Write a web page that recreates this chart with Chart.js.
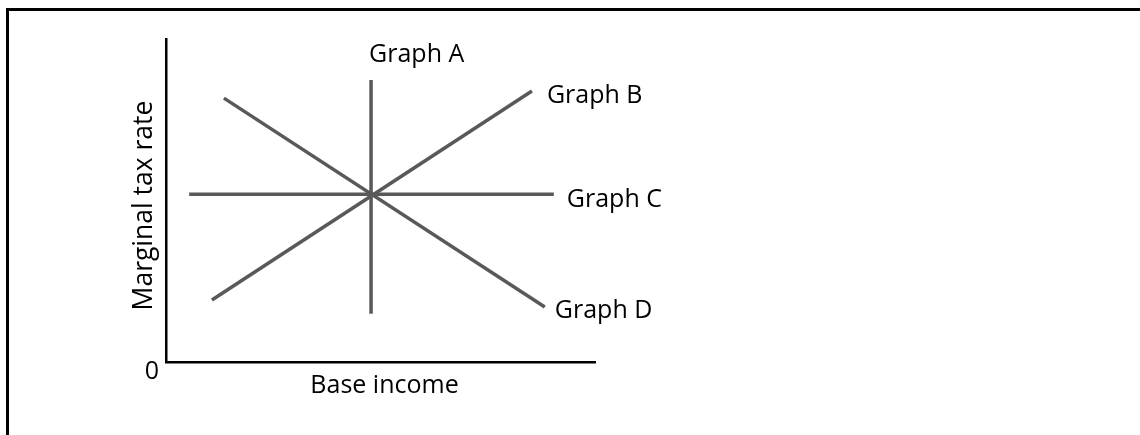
<!DOCTYPE html>
<html>
<head>
<meta charset="utf-8">
<script src="https://cdn.jsdelivr.net/npm/chart.js@4"></script>
<style>
  html, body { margin: 0; padding: 0; background: #fff; }
  canvas { display: block; }
</style>
</head>
<body>
<canvas id="taxChart" width="1140" height="435"></canvas>
<script>
// Line names and their end points (base income, marginal tax rate)
const graphNames = ["Graph A", "Graph B", "Graph C", "Graph D"];
const incomeA = [4.78, 4.78];
const rateA = [8.73, 1.49];
const incomeB = [1.07, 8.53];
const rateB = [1.92, 8.39];
const incomeC = [0.54, 9.04];
const rateC = [5.19, 5.19];
const incomeD = [1.35, 8.83];
const rateD = [8.17, 1.70];

const xTitle = "Base income";
const yTitle = "Marginal tax rate";
const originLabel = "0";

const FONT = "'Open Sans', sans-serif";
const lineColor = "#595959";

function toPoints(xs, ys) {
    return xs.map(function (x, i) { return { x: x, y: ys[i] }; });
}

const seriesX = [incomeA, incomeB, incomeC, incomeD];
const seriesY = [rateA, rateB, rateC, rateD];

// Outer frame and the texts around the plot
const labelsPlugin = {
    id: "labels",
    beforeDraw: function (chart) {
        const ctx = chart.ctx;
        ctx.save();
        ctx.fillStyle = "#000";
        ctx.fillRect(6, 8, 1134, 3);
        ctx.fillRect(6, 8, 3, 427);
        ctx.restore();
    },
    afterDraw: function (chart) {
        const ctx = chart.ctx;
        const xs = chart.scales.x;
        const ys = chart.scales.y;
        ctx.save();
        ctx.fillStyle = "#000";
        ctx.font = "25px " + FONT;
        ctx.textBaseline = "alphabetic";

        // line labels, placed off each line's end point
        const offsets = [[-2, -18], [15, 12], [13, 13], [10, 11]];
        chart.data.datasets.forEach(function (ds, i) {
            const p = ds.data[i === 0 ? 0 : ds.data.length - 1];
            const px = xs.getPixelForValue(p.x);
            const py = ys.getPixelForValue(p.y);
            ctx.textAlign = "left";
            ctx.fillText(ds.label, px + offsets[i][0], py + offsets[i][1]);
        });

        // origin and axis titles
        ctx.textAlign = "center";
        ctx.fillText(originLabel, xs.left - 14, ys.bottom + 17);
        ctx.fillText(xTitle, (xs.left + xs.right) / 2 + 4, ys.bottom + 31);

        ctx.font = "26.5px " + FONT;
        ctx.translate(xs.left - 14, (ys.top + ys.bottom) / 2 + 5);
        ctx.rotate(-Math.PI / 2);
        ctx.fillText(yTitle, 0, 0);
        ctx.restore();
    }
};

const ctx = document.getElementById("taxChart").getContext("2d");
new Chart(ctx, {
    type: "scatter",
    data: {
        datasets: graphNames.map(function (name, i) {
            return {
                label: name,
                data: toPoints(seriesX[i], seriesY[i]),
                showLine: true,
                borderColor: lineColor,
                borderWidth: 3.5,
                pointRadius: 0,
                pointHoverRadius: 0,
                fill: false
            };
        })
    },
    options: {
        responsive: false,
        animation: false,
        events: [],
        layout: {
            padding: { left: 166, top: 39, right: 545, bottom: 73 }
        },
        plugins: {
            legend: { display: false },
            tooltip: { enabled: false },
            title: { display: false }
        },
        scales: {
            x: {
                type: "linear",
                min: 0,
                max: 10,
                ticks: { display: false },
                grid: { display: false },
                border: { display: true, color: "#000", width: 2.5 },
                afterFit: function (scale) { scale.height = 0; }
            },
            y: {
                type: "linear",
                min: 0,
                max: 10,
                ticks: { display: false },
                grid: { display: false },
                border: { display: true, color: "#000", width: 2.5 },
                afterFit: function (scale) { scale.width = 0; }
            }
        }
    },
    plugins: [labelsPlugin]
});
</script>
</body>
</html>
